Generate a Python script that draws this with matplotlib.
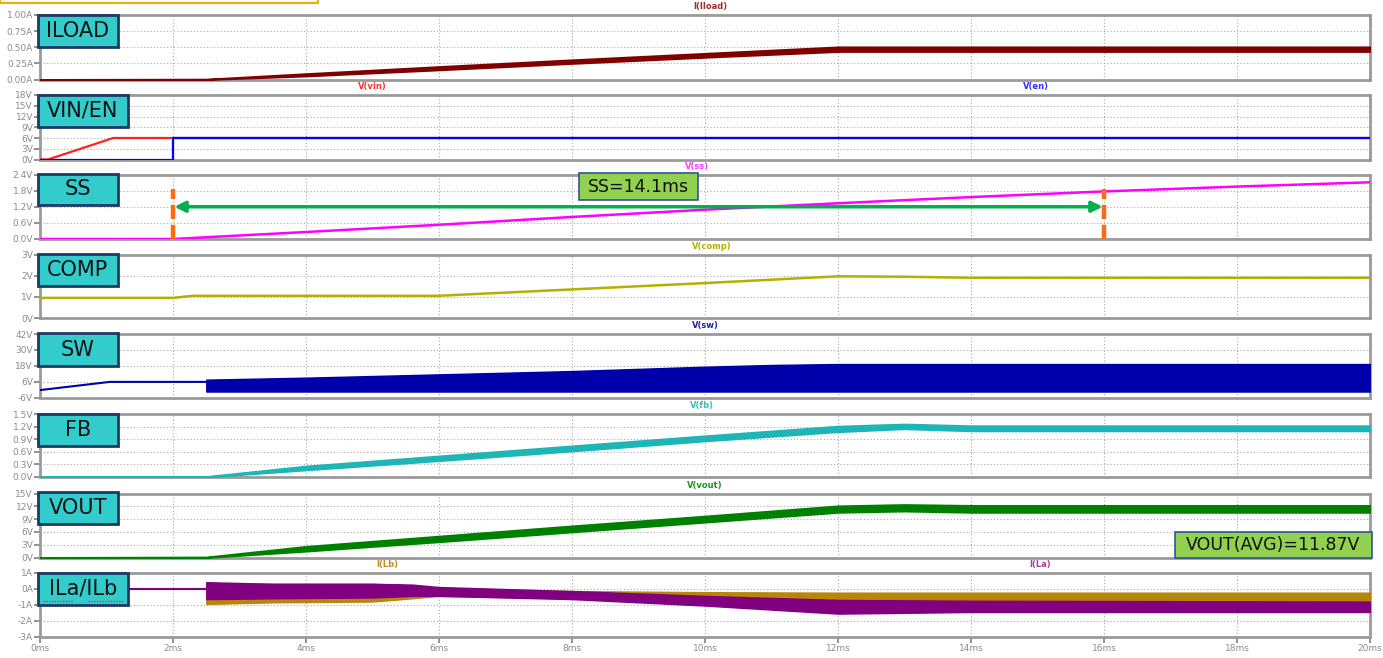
import numpy as np
import matplotlib.pyplot as plt
from matplotlib.patches import Rectangle

# ---- data (time in ms) ----
# ILOAD band (lower / upper envelope)
iload_t = [0, 2.5, 4, 6, 8, 10, 12, 14, 20]
iload_lo = [0, 0, 0.055, 0.15, 0.25, 0.345, 0.435, 0.435, 0.435]
iload_hi = [0, 0.005, 0.09, 0.2, 0.305, 0.405, 0.505, 0.505, 0.505]

vin_t = [0, 0.12, 1.1, 2.0, 20]
vin_v = [0, 0, 6, 6, 6]
en_t = [0, 2.0, 2.0, 20]
en_v = [0, 0, 6, 6]

ss_t = [0, 2, 4, 6, 8, 10, 12, 14, 16, 18, 20]
ss_v = [0, 0, 0.26, 0.53, 0.82, 1.09, 1.33, 1.56, 1.77, 1.95, 2.11]

comp_t = [0, 2.0, 2.3, 6, 8, 10, 12, 13, 14, 20]
comp_v = [0.95, 0.95, 1.05, 1.05, 1.35, 1.65, 1.97, 1.95, 1.9, 1.9]

sw_pre_t = [0, 1.05, 2.5]
sw_pre_v = [-0.4, 5.8, 5.8]
sw_t = [2.5, 4, 6, 8, 10, 11, 12, 20]
sw_lo = [-1.5, -1.5, -1.5, -1.5, -1.5, -1.5, -1.5, -1.5]
sw_hi = [7.5, 9.0, 11.5, 14.0, 17.3, 18.6, 19.3, 19.3]

fb_t = [0, 2.5, 4, 6, 8, 10, 12, 13, 14, 20]
fb_lo = [0, 0, 0.17, 0.39, 0.62, 0.86, 1.08, 1.15, 1.1, 1.1]
fb_hi = [0, 0.01, 0.26, 0.5, 0.74, 0.98, 1.21, 1.26, 1.22, 1.22]

vout_t = [0, 2.5, 4, 6, 8, 10, 12, 13, 14, 20]
vout_lo = [0, 0, 1.5, 3.7, 6.0, 8.3, 10.6, 10.9, 10.6, 10.6]
vout_hi = [0, 0.1, 2.6, 5.0, 7.4, 9.7, 12.1, 12.4, 12.2, 12.2]

il_pre_t = [0, 2.5]
il_pre_v = [0, 0]
ilb_t = [2.5, 3.5, 5.0, 5.6, 6.0, 8.0, 10.0, 12.0, 14.0, 20.0]
ilb_lo = [-0.95, -0.85, -0.8, -0.6, -0.45, -0.6, -0.75, -0.8, -0.8, -0.8]
ilb_hi = [0.35, 0.3, 0.3, 0.2, 0.05, -0.15, -0.22, -0.25, -0.25, -0.25]
ila_t = [2.5, 3.5, 5.0, 5.6, 6.0, 8.0, 10.0, 12.0, 14.0, 20.0]
ila_lo = [-0.65, -0.6, -0.55, -0.45, -0.45, -0.65, -1.05, -1.55, -1.45, -1.45]
ila_hi = [0.4, 0.3, 0.3, 0.25, 0.1, -0.15, -0.45, -0.7, -0.75, -0.8]

x_ticks = list(range(0, 21, 2))
x_labels = [f"{v}ms" for v in x_ticks]

W, H = 1383, 658
GRID = "#a8a8a8"
TICKC = "#8c8c8c"
BOXC = "#33CCCC"
BOXE = "#1F3864"

fig = plt.figure(figsize=(W / 100, H / 100), dpi=100)
fig.patch.set_facecolor("white")


def panel(top, bottom, ylim, yticks, ylabels, bottom_axis=False):
    ax = fig.add_axes([40 / W, 1 - bottom / H, 1330 / W, (bottom - top) / H])
    ax.set_axisbelow(True)
    ax.set_xlim(0, 20)
    ax.set_ylim(*ylim)
    ax.set_yticks(yticks)
    ax.set_yticklabels(ylabels, fontsize=6.5, color=TICKC)
    ax.set_xticks(x_ticks)
    ax.tick_params(axis="both", color="#7f7f7f", length=4, width=1.2, pad=1)
    if bottom_axis:
        ax.set_xticklabels(x_labels, fontsize=6.5, color=TICKC)
    else:
        ax.set_xticklabels([])
        ax.tick_params(axis="x", length=0)
    ax.grid(True, color=GRID, linestyle=(0, (1, 2)), linewidth=0.8)
    for s in ax.spines.values():
        s.set_color("#9a9a9a")
        s.set_linewidth(2)
        s.set_zorder(1.5)
    return ax


def label_box(x0, y0, x1, y1, text):
    fig.patches.append(Rectangle((x0 / W, 1 - y1 / H), (x1 - x0) / W, (y1 - y0) / H,
                                 transform=fig.transFigure, facecolor=BOXC,
                                 edgecolor=BOXE, linewidth=2, zorder=10))
    fig.text((x0 + x1) / 2 / W, 1 - (y0 + y1) / 2 / H, text, ha="center", va="center",
             fontsize=15, color="#111111", zorder=11)


def trace_name(ax, x, text, color):
    ax.text(x, 1.13, text, transform=ax.transAxes, ha="center", va="center",
            fontsize=6, fontweight="bold", color=color)


# 1. ILOAD
ax = panel(15, 79.5, (0, 1), [0, 0.25, 0.5, 0.75, 1.0],
           ["0.00A", "0.25A", "0.50A", "0.75A", "1.00A"])
ax.fill_between(iload_t, iload_lo, iload_hi, color="#800000", lw=1.4, zorder=3)
trace_name(ax, 0.504, "I(Iload)", "#9B2D2D")
label_box(38, 15, 118, 47, "ILOAD")

# 2. VIN / EN
ax = panel(95, 159.5, (0, 18), [0, 3, 6, 9, 12, 15, 18],
           ["0V", "3V", "6V", "9V", "12V", "15V", "18V"])
ax.plot(vin_t, vin_v, color="#FF2020", lw=1.6, zorder=3)
ax.plot(en_t, en_v, color="#0000FF", lw=1.6, zorder=3)
trace_name(ax, 0.25, "V(vin)", "#FF3030")
trace_name(ax, 0.749, "V(en)", "#3030FF")
label_box(38, 95, 128, 127, "VIN/EN")

# 3. SS
ax = panel(174.5, 239, (0, 2.4), [0, 0.6, 1.2, 1.8, 2.4],
           ["0.0V", "0.6V", "1.2V", "1.8V", "2.4V"])
ax.plot(ss_t, ss_v, color="#FF00FF", lw=1.8, zorder=3)
for xm in (2, 16):
    ax.plot([xm, xm], [0, 1.85], color="#FF6A13", lw=3.2, dashes=(3.2, 1.3), zorder=5)
ax.annotate("", xy=(2.02, 1.2), xytext=(15.98, 1.2),
            arrowprops=dict(arrowstyle="<|-|>", color="#00B050", lw=2.5,
                            mutation_scale=16, shrinkA=0, shrinkB=0), zorder=6)
trace_name(ax, 0.494, "V(ss)", "#FF40FF")
label_box(38, 174, 118, 205, "SS")
fig.patches.append(Rectangle((579 / W, 1 - 200 / H), 119 / W, 27 / H, transform=fig.transFigure,
                             facecolor="#92D050", edgecolor="#2F5597", lw=1.2, zorder=10))
fig.text(638.5 / W, 1 - 186.5 / H, "SS=14.1ms", ha="center", va="center",
         fontsize=12.5, color="#111111", zorder=11)

# 4. COMP
ax = panel(254.5, 318, (0, 3), [0, 1, 2, 3], ["0V", "1V", "2V", "3V"])
ax.plot(comp_t, comp_v, color="#B5B000", lw=1.8, zorder=3)
trace_name(ax, 0.505, "V(comp)", "#B5B000")
label_box(38, 254, 118, 286, "COMP")

# 5. SW
ax = panel(334, 397.5, (-6, 42), [-6, 6, 18, 30, 42], ["-6V", "6V", "18V", "30V", "42V"])
ax.plot(sw_pre_t, sw_pre_v, color="#0000AA", lw=1.5, zorder=3)
ax.fill_between(sw_t, sw_lo, sw_hi, color="#0000AA", lw=1, zorder=3)
trace_name(ax, 0.5, "V(sw)", "#2020B0")
label_box(38, 333, 118, 366, "SW")

# 6. FB
ax = panel(414, 477, (0, 1.5), [0, 0.3, 0.6, 0.9, 1.2, 1.5],
           ["0.0V", "0.3V", "0.6V", "0.9V", "1.2V", "1.5V"])
ax.fill_between(fb_t, fb_lo, fb_hi, color="#1DB5B5", lw=1.4, zorder=3)
trace_name(ax, 0.498, "V(fb)", "#30C0C0")
label_box(38, 414, 118, 446, "FB")

# 7. VOUT
ax = panel(493.5, 557.5, (0, 15), [0, 3, 6, 9, 12, 15],
           ["0V", "3V", "6V", "9V", "12V", "15V"])
ax.fill_between(vout_t, vout_lo, vout_hi, color="#008000", lw=1.4, zorder=3)
trace_name(ax, 0.5, "V(vout)", "#209020")
label_box(38, 492, 118, 524, "VOUT")
fig.patches.append(Rectangle((1175 / W, 1 - 558 / H), 197 / W, 26 / H, transform=fig.transFigure,
                             facecolor="#92D050", edgecolor="#2F5597", lw=1.2, zorder=10))
fig.text(1273.5 / W, 1 - 545 / H, "VOUT(AVG)=11.87V", ha="center", va="center",
         fontsize=12.5, color="#111111", zorder=11)

# 8. ILa / ILb
ax = panel(572.5, 637, (-3, 1), [-3, -2, -1, 0, 1], ["-3A", "-2A", "-1A", "0A", "1A"],
           bottom_axis=True)
ax.plot(il_pre_t, il_pre_v, color="#800080", lw=1.5, zorder=3)
ax.fill_between(ilb_t, ilb_lo, ilb_hi, color="#B8860B", lw=1, zorder=3)
ax.fill_between(ila_t, ila_lo, ila_hi, color="#800080", lw=1, zorder=3)
trace_name(ax, 0.261, "I(Lb)", "#C08A20")
trace_name(ax, 0.752, "I(La)", "#A040A0")
label_box(38, 573, 128, 605, "ILa/ILb")
for x0, x1 in ((43, 73), (88, 124)):
    fig.lines.append(plt.Line2D([x0 / W, x1 / W], [1 - 601 / H, 1 - 601 / H],
                                transform=fig.transFigure, color="#E03030", lw=1,
                                linestyle=(0, (1, 1)), zorder=12))

# cut-off frame at the top-left of the screenshot
fig.patches.append(Rectangle((0, 1 - 3 / H), 318 / W, 6 / H, transform=fig.transFigure,
                             facecolor="none", edgecolor="#F0B000", lw=1.5, zorder=12))

fig.savefig("out.png", dpi=100)
